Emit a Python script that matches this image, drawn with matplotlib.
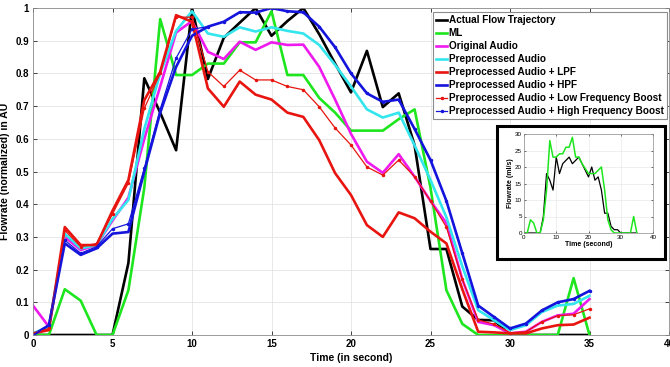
import matplotlib.pyplot as plt
from matplotlib.patches import Rectangle

plt.rcParams['font.family'] = ['Liberation Sans', 'DejaVu Sans']

t = list(range(36))

actual = [0, 0, 0, 0, 0, 0, 0.22, 0.785, 0.68, 0.565, 1.0, 0.783, 0.909, 0.955, 1.0, 0.915,
          0.96, 1.0, 0.92, 0.83, 0.742, 0.869, 0.697, 0.739, 0.58, 0.263, 0.263, 0.087, 0.046,
          0.045, 0, 0, 0, 0, 0, 0]
ml = [0, 0, 0.14, 0.105, 0, 0, 0.137, 0.45, 0.966, 0.795, 0.795, 0.83, 0.83, 0.895, 0.895, 0.99,
      0.795, 0.795, 0.725, 0.68, 0.625, 0.625, 0.625, 0.66, 0.69, 0.45, 0.137, 0.034, 0, 0,
      0, 0, 0, 0, 0.174, 0]
original = [0.09, 0.025, 0.30, 0.26, 0.275, 0.35, 0.42, 0.60, 0.76, 0.925, 0.96, 0.866, 0.844,
            0.897, 0.872, 0.895, 0.887, 0.888, 0.82, 0.72, 0.615, 0.53, 0.496, 0.553, 0.484, 0.41,
            0.342, 0.17, 0.04, 0.03, 0.005, 0.01, 0.04, 0.06, 0.065, 0.11]
preproc = [0.005, 0.025, 0.31, 0.265, 0.275, 0.355, 0.413, 0.63, 0.80, 0.93, 0.99, 0.922, 0.912,
           0.941, 0.928, 0.941, 0.93, 0.922, 0.887, 0.826, 0.76, 0.69, 0.665, 0.68, 0.58, 0.474,
           0.36, 0.21, 0.076, 0.045, 0.015, 0.03, 0.07, 0.09, 0.095, 0.12]
lpf = [0.005, 0.015, 0.33, 0.275, 0.275, 0.38, 0.474, 0.718, 0.805, 0.978, 0.958, 0.754, 0.698,
       0.775, 0.735, 0.72, 0.68, 0.667, 0.596, 0.495, 0.428, 0.336, 0.30, 0.375, 0.357, 0.316,
       0.28, 0.14, 0.01, 0.008, 0.005, 0.005, 0.02, 0.03, 0.032, 0.053]
hpf = [0, 0.03, 0.28, 0.245, 0.265, 0.31, 0.315, 0.50, 0.68, 0.82, 0.915, 0.943, 0.958, 0.987,
       0.986, 1.0, 0.99, 0.987, 0.943, 0.88, 0.80, 0.739, 0.713, 0.72, 0.63, 0.535, 0.41, 0.25,
       0.09, 0.055, 0.02, 0.035, 0.075, 0.1, 0.11, 0.135]
lfb = [0.005, 0.02, 0.32, 0.27, 0.28, 0.37, 0.465, 0.693, 0.80, 0.972, 0.972, 0.805, 0.76, 0.81,
       0.78, 0.78, 0.76, 0.75, 0.698, 0.633, 0.581, 0.514, 0.489, 0.535, 0.484, 0.41, 0.33, 0.17,
       0.046, 0.033, 0.007, 0.01, 0.04, 0.059, 0.062, 0.08]
hfb = [0, 0.03, 0.29, 0.25, 0.27, 0.325, 0.34, 0.51, 0.69, 0.847, 0.935, 0.943, 0.958, 0.987,
       0.986, 1.0, 0.99, 0.987, 0.943, 0.88, 0.80, 0.739, 0.713, 0.72, 0.63, 0.535, 0.41, 0.25,
       0.09, 0.055, 0.02, 0.035, 0.075, 0.1, 0.11, 0.135]

# inset, flowrate in ml/s
act_mls = [0, 0, 0, 0, 0, 0, 5, 18, 16, 13, 23, 18, 21, 22, 23, 21, 22, 23, 21, 19, 17, 20, 16,
           17, 13, 6, 6, 2, 1, 1, 0, 0, 0, 0, 0, 0]
ml_mls = [0, 0, 4, 3, 0, 0, 4, 13, 28, 23, 23, 24, 24, 26, 26, 29, 23, 23, 21, 19.5, 18, 18, 18,
          19, 20, 13, 4, 1, 0, 0, 0, 0, 0, 0, 5, 0]

labels = ['Actual Flow Trajectory', 'ML', 'Original Audio', 'Preprocessed Audio',
          'Preprocessed Audio + LPF', 'Preprocessed Audio + HPF',
          'Preprocessed Audio + Low Frequency Boost', 'Preprocessed Audio + High Frequency Boost']

fig = plt.figure(figsize=(6.7, 3.67), dpi=100)
ax = fig.add_axes([33 / 670, 32 / 367, 636 / 670, 327 / 367])

ax.plot(t, actual, color='black', lw=1.9, label=labels[0])
ax.plot(t, ml, color='#1ee61e', lw=1.9, label=labels[1])
ax.plot(t, original, color='#ee1aee', lw=1.9, label=labels[2])
ax.plot(t, preproc, color='#33e6ee', lw=1.9, label=labels[3])
ax.plot(t, lpf, color='#e8140f', lw=1.9, label=labels[4])
ax.plot(t, hpf, color='#1414dc', lw=1.9, label=labels[5])
ax.plot(t, lfb, color='#e8140f', lw=0.9, marker='.', ms=3, label=labels[6])
ax.plot(t, hfb, color='#1414dc', lw=0.9, marker='.', ms=3, label=labels[7])

ax.set_xlim(0, 40)
ax.set_ylim(0, 1)
ax.set_xticks(range(0, 41, 5))
ax.set_yticks([i / 10 for i in range(11)])
ax.set_yticklabels(['0', '0.1', '0.2', '0.3', '0.4', '0.5', '0.6', '0.7', '0.8', '0.9', '1'])
ax.tick_params(labelsize=7, direction='in', length=3, width=0.5, top=True, right=True, pad=3)
for lb in ax.get_xticklabels() + ax.get_yticklabels():
    lb.set_fontweight('bold')
ax.grid(True, color='#e4e4e4', lw=0.6)
for s in ax.spines.values():
    s.set_color('#8c8c8c')
    s.set_linewidth(0.6)
ax.set_xlabel('Time (in second)', fontsize=7.5, fontweight='bold', labelpad=3)
ax.set_ylabel('Flowrate (normalized) in AU', fontsize=7.5, fontweight='bold', labelpad=4)

leg = ax.legend(loc='upper right', bbox_to_anchor=(0.998, 0.99),
                prop={'weight': 'bold', 'size': 7.2}, handlelength=1.1, handletextpad=0.15,
                labelspacing=0.3, borderpad=0.3, borderaxespad=0.1, fancybox=False,
                framealpha=1)
leg.get_frame().set_edgecolor('#8c8c8c')
leg.get_frame().set_linewidth(0.8)

# inset frame
fig.patches.append(Rectangle((497 / 670, 108 / 367), 168 / 670, 133 / 367,
                             transform=fig.transFigure, facecolor='white',
                             edgecolor='black', lw=2.2, zorder=3))

ins = fig.add_axes([524 / 670, 134 / 367, 129 / 670, 99 / 367], zorder=5)
ins.plot(t, act_mls, color='black', lw=0.9)
ins.plot(t, ml_mls, color='#1ee61e', lw=1.1)
ins.set_xlim(0, 40)
ins.set_ylim(0, 30)
ins.set_xticks([0, 10, 20, 30, 40])
ins.set_yticks([0, 5, 10, 15, 20, 25, 30])
ins.tick_params(labelsize=4.5, direction='in', length=1.5, width=0.4, top=True, right=True, pad=1.5)
ins.grid(True, color='#e4e4e4', lw=0.4)
for s in ins.spines.values():
    s.set_color('#8c8c8c')
    s.set_linewidth(0.5)
ins.set_xlabel('Time (second)', fontsize=5, fontweight='bold', labelpad=1)
ins.set_ylabel('Flowrate (ml/s)', fontsize=5, fontweight='bold', labelpad=1)

fig.savefig('out.png', dpi=100)
